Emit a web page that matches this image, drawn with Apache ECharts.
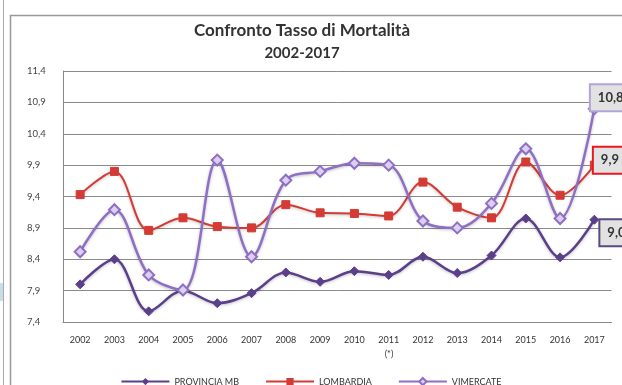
<!DOCTYPE html>
<html><head><meta charset="utf-8">
<script src="https://cdn.jsdelivr.net/npm/echarts@6/dist/echarts.min.js"></script>
<style>html,body{margin:0;padding:0;background:#fff}#c{width:622px;height:385px}</style>
</head><body><div id="c"></div>
<script>
const years = ['2002','2003','2004','2005','2006','2007','2008','2009','2010','2011','2012','2013','2014','2015','2016','2017'];
const provinciaMB = [8.0,8.4,7.57,7.9,7.7,7.86,8.19,8.04,8.21,8.15,8.44,8.18,8.46,9.05,8.43,9.03];
const lombardia = [9.43,9.8,8.86,9.06,8.92,8.9,9.27,9.14,9.13,9.09,9.63,9.23,9.06,9.95,9.42,9.9];
const vimercate = [8.52,9.19,8.15,7.91,9.98,8.44,9.66,9.8,9.93,9.9,9.01,8.9,9.29,10.16,9.05,10.8];
const yTicks = [7.4,7.9,8.4,8.9,9.4,9.9,10.4,10.9,11.4];
const names = ['PROVINCIA MB','LOMBARDIA','VIMERCATE'];

const fmt = v => v.toFixed(1).replace('.', ',');
function withEndLabel(arr, labelOpt){
  return arr.map((v,i)=> i===arr.length-1 ? {value:v, label:Object.assign({show:true, formatter:p=>fmt(Math.round(p.value*10)/10)}, labelOpt)} : v);
}
const baseLabel = {position:'right', color:'#333', fontFamily:'Lato', fontWeight:'bold', fontSize:13,
  backgroundColor:'#e2e2e2', padding:[6,8,6,7], borderWidth:2};

const chart = echarts.init(document.getElementById('c'), null, {renderer:'canvas'});
chart.setOption({
  animation:false,
  title:{text:'{a|Confronto Tasso di Mortalità}\n{b|2002-2017}', left:297, top:14, textAlign:'center',
    textStyle:{rich:{
      a:{fontFamily:'Lato', fontWeight:'bold', fontSize:17, color:'#333', lineHeight:23, align:'center'},
      b:{fontFamily:'Lato', fontWeight:'bold', fontSize:15, color:'#333', lineHeight:23, align:'center'}}}},
  grid:{left:63, right:10.5, top:71, bottom:63},
  xAxis:{type:'category', data:years, boundaryGap:true,
    axisLine:{lineStyle:{color:'#888'}}, axisTick:{show:false},
    axisLabel:{color:'#333', fontFamily:'Lato', fontSize:9, margin:14}},
  yAxis:{type:'value', min:7.4, max:11.4,
    axisLine:{show:true, lineStyle:{color:'#888'}},
    axisTick:{show:false, customValues:yTicks},
    axisLabel:{customValues:yTicks, formatter:v=>fmt(v), color:'#444', fontFamily:'Lato', fontSize:9.5, align:'left', margin:36},
    splitLine:{lineStyle:{color:'#8a8a8a', width:1}}},
  legend:{top:372, left:'center', itemWidth:48, itemHeight:9, itemGap:26,
    textStyle:{fontFamily:'Lato', fontSize:9, color:'#333'}, data:names},
  graphic:[
    {type:'line', shape:{x1:10, y1:15.5, x2:622, y2:15.5}, style:{stroke:'#999', lineWidth:1.5}},
    {type:'line', shape:{x1:10.5, y1:15, x2:10.5, y2:385}, style:{stroke:'#999', lineWidth:1.5}},
    {type:'line', shape:{x1:3.5, y1:0, x2:3.5, y2:385}, style:{stroke:'#aaa', lineWidth:1}},
    {type:'rect', shape:{x:0, y:283, width:3, height:18}, style:{fill:'#c9dcea'}},
    {type:'text', x:389, y:350, style:{text:'(*)', fill:'#333', font:'9px Lato', align:'center'}}
  ],
  series:[
    {name:names[0], type:'line', smooth:0.35, data:withEndLabel(provinciaMB, Object.assign({}, baseLabel, {borderColor:'#5a4a82', offset:[-4,13]})),
      symbol:'diamond', symbolSize:9, z:3,
      lineStyle:{color:'#5b3f8a', width:2.5, shadowColor:'rgba(0,0,0,0.25)', shadowBlur:3, shadowOffsetY:1},
      itemStyle:{color:'#5b3f8a', borderColor:'#5b3f8a'}},
    {name:names[1], type:'line', smooth:0.35, data:withEndLabel(lombardia, Object.assign({}, baseLabel, {borderColor:'#e8191e', offset:[-10,-5]})),
      symbol:'rect', symbolSize:8, z:3,
      lineStyle:{color:'#d33b34', width:2, shadowColor:'rgba(0,0,0,0.25)', shadowBlur:3, shadowOffsetY:1},
      itemStyle:{color:'#d33b34', borderColor:'#d33b34'}},
    {name:names[2], type:'line', smooth:0.35, data:withEndLabel(vimercate, Object.assign({}, baseLabel, {borderColor:'#b3a4d6', offset:[-15,-11]})),
      symbol:'diamond', symbolSize:11, z:3,
      lineStyle:{color:'#8f6fc4', width:2.5, shadowColor:'rgba(0,0,0,0.25)', shadowBlur:3, shadowOffsetY:1},
      itemStyle:{color:'#dccfef', borderColor:'#8f6fc4', borderWidth:2}}
  ]
});
</script></body></html>
